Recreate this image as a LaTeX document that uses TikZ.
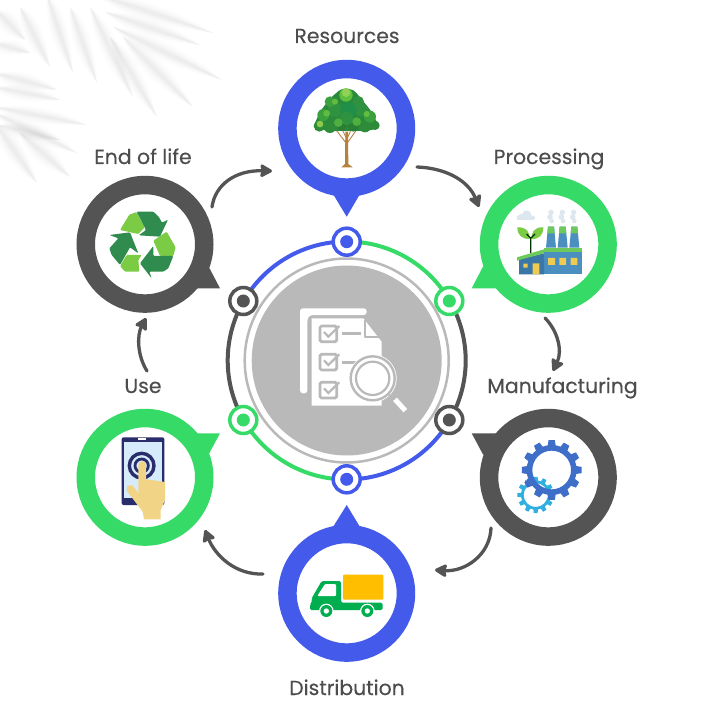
\documentclass[tikz,border=0pt]{standalone}
\usepackage{fontspec}
\setmainfont{Poppins}
\newfontfamily\labfont[FakeBold=0.25]{Poppins}
\usetikzlibrary{arrows.meta,calc}
\definecolor{cblue}{HTML}{435AEA}
\definecolor{cgreen}{HTML}{36DA66}
\definecolor{cdark}{HTML}{545454}
\definecolor{cgray}{HTML}{B9B9B9}
\definecolor{ctext}{HTML}{4D4D4D}
\definecolor{rdark}{HTML}{2F8C4E}
\definecolor{rlight}{HTML}{7BCB45}
\newcommand{\palmleaf}[4]{%
  \foreach \w/\o in {17/0.006,14/0.008,11/0.01,8/0.012,5.5/0.014,3/0.014}{%
    \fill[black,opacity=\o] (#1,#2) .. controls ($(#1,#2)!0.3!(#3,#4)+(\w*0.6,-\w*0.6)$) and ($(#1,#2)!0.6!(#3,#4)+(\w*0.5,-\w*0.5)$) .. (#3,#4)
      .. controls ($(#1,#2)!0.6!(#3,#4)+(-\w*0.5,\w*0.5)$) and ($(#1,#2)!0.3!(#3,#4)+(-\w*0.6,\w*0.6)$) .. cycle;
  }}
% x y Rout Rroot Rhole teeth colour
\newcommand{\gearshape}[7]{%
  \fill[#7,even odd rule] (#1,#2) circle[radius=#4] (#1,#2) circle[radius=#5];
  \foreach \t in {1,...,#6}{
    \pgfmathsetmacro{\aa}{\t*360/#6}
    \pgfmathsetmacro{\da}{360/#6*0.32}
    \pgfmathsetmacro{\db}{360/#6*0.2}
    \fill[#7] ([shift={(#1,#2)}]\aa-\da:#4-2) -- ([shift={(#1,#2)}]\aa-\db:#3) -- ([shift={(#1,#2)}]\aa+\db:#3) -- ([shift={(#1,#2)}]\aa+\da:#4-2) -- cycle;
  }}
\tikzset{
  bubble/.style={circle,draw=#1,line width=18.5pt,fill=white,minimum size=118.5pt,inner sep=0pt},
  tail/.style={fill=#1},
  hub/.style={circle,draw=#1,line width=3.5pt,fill=white,minimum size=27pt,inner sep=0pt},
  hubdot/.style={circle,fill=#1,minimum size=13pt,inner sep=0pt},
  lab/.style={text=ctext,font=\labfont\fontsize{20.4}{22}\selectfont,inner sep=0pt,anchor=base},
  flow/.style={draw=cdark,line width=3.3pt,line cap=round,-{Stealth[length=14pt,width=15pt,inset=2pt,round]}},
  ringarc/.style={draw=#1,line width=4pt}
}
\begin{document}
\begin{tikzpicture}[x=1pt,y=-1pt]
\useasboundingbox (0,0) rectangle (706,722);
\fill[white] (0,0) rectangle (706,722);
% palm shadow
\begin{scope}
\clip (0,0) rectangle (260,210);
\palmleaf{95}{-6}{213}{33}
\palmleaf{105}{12}{200}{45}
\palmleaf{113}{27}{222}{80}
\palmleaf{123}{37}{193}{107}
\palmleaf{110}{37}{157}{117}
\palmleaf{90}{7}{133}{97}
\palmleaf{70}{7}{97}{83}
\palmleaf{47}{-5}{73}{73}
\palmleaf{20}{7}{50}{67}
\palmleaf{-4}{10}{25}{40}
\palmleaf{-6}{43}{30}{53}
\palmleaf{-5}{73}{57}{90}
\palmleaf{-5}{87}{60}{100}
\palmleaf{-5}{107}{87}{125}
\palmleaf{-5}{113}{77}{153}
\palmleaf{-5}{123}{37}{183}
\palmleaf{20}{133}{70}{177}
\palmleaf{-3}{125}{60}{140}
\end{scope}
% centre
\coordinate (c) at (346.7,360.5);
\node[circle,fill=cgray,minimum size=190pt,inner sep=0pt] (disc) at (c) {};
\node[circle,draw=cgray,line width=2.5pt,minimum size=204pt,inner sep=0pt] (halo) at (c) {};
% outer ring arcs
\draw[ringarc=cblue] (c) ++(-90:119) arc[start angle=-90,end angle=-150,radius=119];
\draw[ringarc=cgreen] (c) ++(-90:119) arc[start angle=-90,end angle=-30,radius=119];
\draw[ringarc=cdark] (c) ++(-30:119) arc[start angle=-30,end angle=30,radius=119];
\draw[ringarc=cblue] (c) ++(30:119) arc[start angle=30,end angle=90,radius=119];
\draw[ringarc=cgreen] (c) ++(90:119) arc[start angle=90,end angle=150,radius=119];
\draw[ringarc=cdark] (c) ++(150:119) arc[start angle=150,end angle=210,radius=119];
% hubs
\foreach \n/\x/\y/\k in {ha/346.7/241.7/cblue,hb/449.3/301/cgreen,hc/449.3/420/cdark,hd/346.7/479.3/cblue,he/243.3/420/cgreen,hf/243.3/301/cdark}{
  \node[hub=\k] (\n) at (\x,\y) {};
  \node[hubdot=\k] (\n dot) at (\x,\y) {};
}
% document icon
\begin{scope}[shift={(220,220)},scale=1/3]
\fill[white,rounded corners=3pt] (240,265) -- (440,265) -- (440,285) -- (270,285) -- (262,295) -- (262,520) -- (240,520) -- cycle;
\fill[white] (275,295) -- (430,295) -- (485,365) -- (485,557) -- (275,557) -- cycle;
\draw[cgray,line width=2pt,line join=round] (435,300) -- (435,350) -- (480,350);
\foreach \yy in {318,403,487}{
  \draw[cgray,line width=2.8pt,rounded corners=1.5pt] (300,\yy) rectangle ++(50,47);
  \draw[cgray,line width=2.2pt] (312,\yy+18) -- (325,\yy+32) -- (358,\yy);
}
\draw[cgray,line width=2.6pt] (367,340) -- (422,340);
\draw[cgray,line width=2.6pt] (367,427) -- (410,427);
\fill[white] (458,475) circle[radius=72];
\draw[cgray,line width=2.4pt] (458,475) circle[radius=66];
\draw[cgray,line width=2.2pt] (458,475) circle[radius=50];
\draw[cgray,line width=1.6pt] (505,522) -- (522,539);
\draw[white,line width=5pt] (525,538) -- (556,572);
\end{scope}
% bubbles
\fill[tail=cblue] (333,194) -- (346.7,216.7) -- (360,194) -- cycle;
\node[bubble=cblue] (res) at (346.7,128.3) {};
\fill[tail=cgreen] (483.3,266) -- (471.7,288.3) -- (498,288.3) -- cycle;
\node[bubble=cgreen] (proc) at (548.3,244.3) {};
\fill[tail=cdark] (483.3,455) -- (471.7,433.3) -- (498,433.3) -- cycle;
\node[bubble=cdark] (manu) at (548.3,477.3) {};
\fill[tail=cblue] (333,527) -- (346.7,505) -- (360,527) -- cycle;
\node[bubble=cblue] (dist) at (346.7,593.3) {};
\fill[tail=cgreen] (208.3,455) -- (220,433.3) -- (195,433.3) -- cycle;
\node[bubble=cgreen] (use) at (145,477.3) {};
\fill[tail=cdark] (208.3,266) -- (220,288.3) -- (195,288.3) -- cycle;
\node[bubble=cdark] (eol) at (145,244.3) {};
% tree
\begin{scope}[shift={(270,60)},scale=1/3]
\definecolor{tr}{HTML}{B5823E}\definecolor{tb}{HTML}{2A8A3C}
\fill[tr] (226,215) -- (234,215) -- (235,312) -- (248,322) -- (214,322) -- (225,312) -- cycle;
\draw[tr,line width=.9pt] (229,250) -- (200,212);
\draw[tr,line width=.9pt] (231,250) -- (258,212);
\draw[tr,line width=.8pt] (229,235) -- (215,205);
\draw[tr,line width=.8pt] (232,235) -- (245,205);
\fill[tb,rounded corners=4pt] (128,205) -- (150,155) -- (180,115) -- (215,85) -- (250,88) -- (275,118) -- (305,155) -- (330,205) -- (285,213) -- (180,213) -- cycle;
\foreach \x/\y/\r/\k in {
 148/198/17/2E8B3A,180/200/19/2E8B3A,215/198/15/2A7F35,250/198/17/2A7F35,285/198/19/2E8B3A,315/196/14/2E8B3A,
 160/165/18/3BA13F,195/150/22/2F9240,235/150/24/1F8F4A,275/150/20/2F9240,300/170/18/3BA13F,
 180/125/16/3BA13F,228/105/20/5FBF3F,265/125/17/2F9240,230/175/20/2F9240,
 150/192/10/8CCB4B,205/188/13/4FB03F,260/185/13/4FB03F,170/160/10/62BC3F,228/98/13/8FD255,290/162/9/62BC3F,195/125/9/62BC3F,250/150/11/1F8F4A}{
  \definecolor{tc}{HTML}{\k}
  \fill[tc] (\x,\y) circle[radius=\r];
}
\end{scope}
% factory
\begin{scope}[shift={(470,170)},scale=1/3]
\definecolor{fb}{HTML}{4A8FC0}\definecolor{fd}{HTML}{3A76A6}\definecolor{fg}{HTML}{6DC95B}\definecolor{fy}{HTML}{EFCB4F}\definecolor{fs}{HTML}{DDE7EF}
\fill[fs,rounded corners=2pt] (140,150) rectangle (195,137);
\fill[fs] (170,135) circle[radius=14] (152,140) circle[radius=8];
\foreach \x in {243,277,311}{
  \fill[fs] (\x,127) circle[radius=8] (\x-3,141) circle[radius=8.5] (\x+2,153) circle[radius=7];
}
\foreach \x in {243,278,313}{
  \fill[fb] (\x-15,233) -- (\x-9,170) -- (\x+9,170) -- (\x+15,233) -- cycle;
  \fill[fg] (\x-11,190) -- (\x-9,170) -- (\x+9,170) -- (\x+11,190) -- cycle;
}
\fill[rlight] (142,172) .. controls (170,170) and (182,190) .. (178,207) .. controls (155,207) and (142,195) .. cycle;
\fill[rlight] (220,172) .. controls (192,170) and (182,190) .. (186,207) .. controls (208,207) and (220,195) .. cycle;
\draw[black!60!green!50!black,line width=1.3pt] (182,250) -- (182,205) -- (170,192) (182,205) -- (195,192);
\fill[fb] (222,245) rectangle (335,313);
\fill[fd] (147,268) -- (222,250) -- (222,313) -- (147,313) -- cycle;
\fill[fg] (222,233) rectangle (335,246);
\fill[fg] (141,262) -- (222,238) -- (222,250) -- (141,272) -- cycle;
\fill[fy] (234,264) rectangle (255,285) (268,264) rectangle (288,285) (302,264) rectangle (322,285) (188,280) rectangle (208,313) (160,281) rectangle (173,293);
\end{scope}
% gears
\begin{scope}[shift={(470,400)},scale=1/3]
\definecolor{gb}{HTML}{3E6EC8}\definecolor{gc}{HTML}{2FB0E0}
\gearshape{197}{285}{55}{44}{36}{12}{gc}
\draw[white,line width=1.2pt] (245,210) circle[radius=82];
\gearshape{245}{210}{90}{75}{58}{12}{gb}
\end{scope}
% truck
\begin{scope}[shift={(270,500)},scale=1/3]
\definecolor{tk}{HTML}{00AE4F}\definecolor{ty}{HTML}{FFBF00}
\fill[ty,rounded corners=1pt] (219,224) rectangle (340,299);
\fill[tk,rounded corners=1.5pt] (125,295) -- (155,243) -- (213,243) -- (213,308) -- (338,308) -- (338,330) -- (120,330) -- (120,312) -- (125,310) -- cycle;
\fill[white,rounded corners=1pt] (142,288) -- (165,252) -- (198,252) -- (198,288) -- cycle;
\foreach \x in {169,292}{
  \fill[white] (\x,333) circle[radius=22];
  \fill[tk] (\x,333) circle[radius=18];
  \fill[white] (\x,333) circle[radius=8];
}
\end{scope}
% phone
\begin{scope}[shift={(70,400)},scale=1/3]
\definecolor{pn}{HTML}{2A2D6B}\definecolor{ps}{HTML}{D6EBFB}\definecolor{ph}{HTML}{F2D486}
\fill[pn,rounded corners=2pt] (155,112) rectangle (283,315);
\fill[ps] (163,125) rectangle (275,295);
\fill[white] (205,115) rectangle (228,121);
\draw[pn,line width=3.4pt] (215,197) circle[radius=37];
\draw[pn,line width=2.8pt] (215,197) circle[radius=20];
\fill[ph] (205,195) arc[start angle=180,end angle=360,radius=11.5] -- (228,238) -- (285,246) -- (285,300) -- (272,330) -- (272,358) -- (222,358) -- (218,335) -- (170,272) -- (172,257) -- (188,256) -- (205,280) -- cycle;
\end{scope}
% recycle
\begin{scope}[shift={(70,170)},scale=1/3]
\fill[rlight,rounded corners=1pt] (150,180) -- (178,134) -- (200,126) -- (224,172) -- (205,192) -- cycle;
\fill[rdark,rounded corners=1pt] (200,125) -- (250,125) -- (266,140) -- (276,158) -- (294,149) -- (270,200) -- (206,196) -- (228,180) -- cycle;
\fill[rlight,rounded corners=1pt] (250,212) -- (290,185) -- (317,232) -- (310,258) -- (270,258) -- cycle;
\fill[rdark,rounded corners=1pt] (310,258) -- (295,295) -- (280,305) -- (238,305) -- (245,325) -- (210,280) -- (250,228) -- (250,258) -- cycle;
\fill[rdark,rounded corners=1pt] (118,195) -- (180,187) -- (205,250) -- (180,232) -- (150,285) -- (125,255) -- (118,235) -- (145,205) -- cycle;
\fill[rlight,rounded corners=1pt] (150,288) -- (170,255) -- (215,255) -- (205,270) -- (208,305) -- (165,305) -- cycle;
\end{scope}
% labels
\node[lab] (tres) at (347,43) {Resources};
\node[lab] (tproc) at (549,164) {Processing};
\node[lab] (tmanu) at (562.5,393) {Manufacturing};
\node[lab] (tdist) at (347,695) {Distribution};
\node[lab] (tuse) at (143,393) {Use};
\node[lab] (teol) at (143,164) {End of life};
% flow arrows
\coordinate (a1) at (212,207); \coordinate (a2) at (272,171);
\coordinate (b1) at (417,167); \coordinate (b2) at (479,207);
\coordinate (c1) at (545,318); \coordinate (c2) at (553,371);
\coordinate (d1) at (491,528); \coordinate (d2) at (435,570);
\coordinate (e1) at (263,574); \coordinate (e2) at (205,530);
\coordinate (f1) at (147,371); \coordinate (f2) at (146,318);
\draw[flow] (a1) .. controls (215,185) and (235,170) .. (a2);
\draw[flow] (b1) .. controls (445,168) and (468,180) .. (b2);
\draw[flow] (c1) .. controls (557,330) and (563,350) .. (c2);
\draw[flow] (d1) .. controls (490,555) and (465,572) .. (d2);
\draw[flow] (e1) .. controls (235,575) and (215,555) .. (e2);
\draw[flow] (f1) .. controls (137,355) and (137,335) .. (f2);
\end{tikzpicture}
\end{document}
